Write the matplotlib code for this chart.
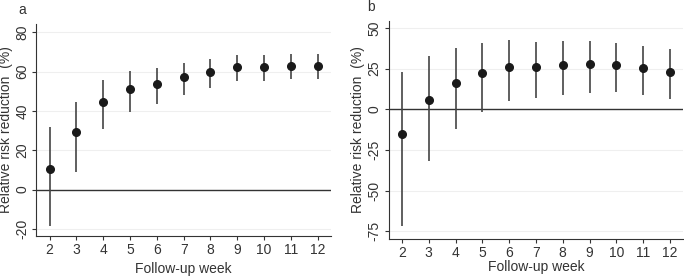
import matplotlib.pyplot as plt

plt.rcParams['font.family'] = ['Liberation Sans Narrow', 'Liberation Sans', 'DejaVu Sans']
plt.rcParams['font.size'] = 10

weeks = [2, 3, 4, 5, 6, 7, 8, 9, 10, 11, 12]

# panel a
a_est = [10.3, 29.2, 44.8, 51.2, 53.8, 57.2, 59.7, 62.3, 62.3, 62.9, 63.1]
a_lo = [-18.5, 9.0, 30.7, 39.5, 43.8, 48.3, 51.7, 55.3, 55.5, 56.1, 56.5]
a_hi = [32.0, 44.8, 55.8, 60.6, 62.0, 64.6, 66.3, 68.4, 68.4, 68.9, 69.0]

# panel b
b_est = [-15.2, 5.9, 16.4, 22.5, 26.2, 26.2, 27.0, 27.9, 27.3, 25.2, 23.2]
b_lo = [-71.7, -32.0, -12.3, -1.4, 5.1, 7.0, 9.0, 10.2, 10.7, 8.8, 6.1]
b_hi = [23.2, 33.0, 37.9, 41.0, 42.6, 41.4, 41.8, 41.8, 40.8, 38.7, 37.1]

fig = plt.figure(figsize=(6.84, 2.76), dpi=100)
fig.patch.set_facecolor('white')

ax_a = fig.add_axes([0.053, 0.145, 0.431, 0.768])
ax_b = fig.add_axes([0.568, 0.133, 0.431, 0.792])


def panel(ax, est, lo, hi, yticks, ylim, xpad):
    for yt in yticks:
        ax.axhline(yt, color='#efefef', lw=0.8, zorder=0)
    ax.axhline(0, color='#333333', lw=1.0, zorder=1)
    ax.vlines(weeks, lo, hi, color='#444444', lw=1.2, zorder=2)
    ax.plot(weeks, est, 'o', color='#1a1a1a', ms=5.5, zorder=3)
    ax.set_xlim(1.5, 12.5)
    ax.set_ylim(*ylim)
    ax.set_xticks(weeks)
    ax.set_yticks(yticks)
    ax.set_yticklabels([str(t) for t in yticks], rotation=90, va='center')
    for s in ('top', 'right'):
        ax.spines[s].set_visible(False)
    for s in ('left', 'bottom'):
        ax.spines[s].set_color('#333333')
        ax.spines[s].set_linewidth(0.8)
    ax.tick_params(length=3, width=0.8, color='#333333', labelcolor='#333333',
                   pad=2)
    ax.set_xlabel('Follow-up week', color='#333333', labelpad=xpad)
    ax.set_ylabel('Relative risk reduction  (%)', color='#333333', labelpad=2)


panel(ax_a, a_est, a_lo, a_hi, [-20, 0, 20, 40, 60, 80], (-23.6, 84.3), 4)
panel(ax_b, b_est, b_lo, b_hi, [-75, -50, -25, 0, 25, 50], (-80, 54.5), 0)

fig.text(18 / 684, 1 - 3 / 276, 'a', fontsize=10, color='#333333', va='top')
fig.text(367 / 684, 1 - 0 / 276, 'b', fontsize=10, color='#333333', va='top')

fig.savefig('out.png', dpi=100, facecolor='white')
